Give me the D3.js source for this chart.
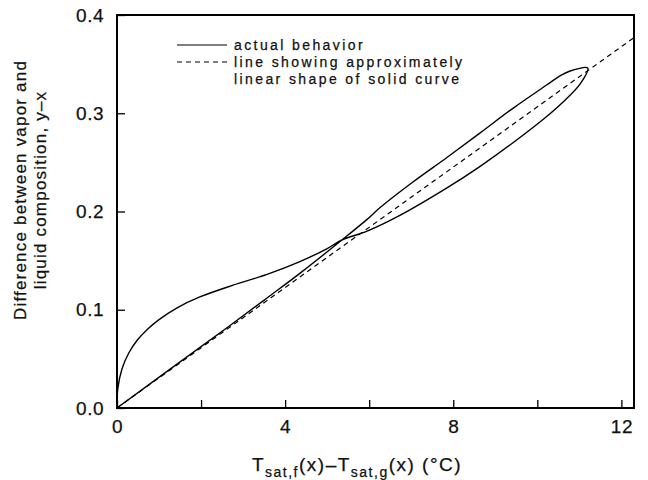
<!DOCTYPE html>
<html>
<head>
<meta charset="utf-8">
<script src="https://cdn.jsdelivr.net/npm/d3@7"></script>
<style>
  body { margin: 0; background: #fff; }
  svg text { font-family: "Liberation Sans", Arial, sans-serif; fill: #111; stroke: #111; stroke-width: 0.25px; }
</style>
</head>
<body>
<div class="chart"></div>
<script>
// loop traced by the measured curve (out along upper-left branch, back along the straight one)
const loopX = [0, 0.02, 0.12, 0.28, 0.48, 0.72, 1.0, 1.43, 1.97, 2.76, 3.57, 4.35, 4.99, 5.35, 5.95, 6.73, 7.85, 8.64, 9.42, 10.23, 10.6, 11.02, 11.2, 10.78, 10.54, 10.23, 9.42, 8.64, 7.85, 7.04, 6.26, 5.95, 5.35, 4.35, 3.57, 2.69, 1.5, 0]
const loopY = [0, 0.02, 0.04, 0.056, 0.069, 0.08, 0.09, 0.102, 0.113, 0.125, 0.136, 0.149, 0.162, 0.171, 0.18, 0.196, 0.224, 0.246, 0.27, 0.297, 0.311, 0.33, 0.346, 0.343, 0.338, 0.329, 0.305, 0.28, 0.255, 0.23, 0.204, 0.192, 0.171, 0.137, 0.112, 0.084, 0.047, 0]

// dashed straight line
const dashX = [0, 12.3]
const dashY = [0, 0.377]

const xTicks = [0, 2, 4, 6, 8, 10, 12]
const xLabels = [0, 4, 8, 12]
const yTicks = [0, 0.1, 0.2, 0.3, 0.4]

const legendItems = [
  { dash: null, lines: ['actual behavior'] },
  { dash: '5,4', lines: ['line showing approximately', 'linear shape of solid curve'] }
]

const width = 648, height = 480
const mLeft = 117, mRight = 634, mTop = 15, mBottom = 408

const x = d3.scaleLinear().domain([0, 12.3]).range([mLeft, mRight])
const y = d3.scaleLinear().domain([0, 0.4]).range([mBottom, mTop])

const svg = d3.select('.chart')
.append('svg')
.attr('width', width)
.attr('height', height)

// frame
svg.append('rect')
.attr('x', mLeft).attr('y', mTop)
.attr('width', mRight - mLeft).attr('height', mBottom - mTop)
.attr('fill', 'none').attr('stroke', '#000').attr('stroke-width', 2)

// ticks point inward
svg.append('g')
.attr('transform', `translate(0,${mBottom})`)
.call(d3.axisBottom(x).tickValues(xTicks).tickSize(-8).tickPadding(12)
  .tickFormat(d => xLabels.includes(d) ? d : ''))
.call(g => g.select('.domain').remove())
.call(g => g.selectAll('line').attr('stroke-width', 1.3))
.call(g => g.selectAll('text').attr('font-size', 19).attr('letter-spacing', 0.5))

svg.append('g')
.attr('transform', `translate(${mLeft},0)`)
.call(d3.axisLeft(y).tickValues(yTicks).tickSize(-8).tickPadding(13)
  .tickFormat(d3.format('.1f')))
.call(g => g.select('.domain').remove())
.call(g => g.selectAll('line').attr('stroke-width', 1.3))
.call(g => g.selectAll('text').attr('font-size', 19).attr('letter-spacing', 0.5))

const line = d3.line().x(d => x(d[0])).y(d => y(d[1]))

svg.append('path')
.datum(dashX.map((d, i) => [d, dashY[i]]))
.attr('d', line)
.attr('fill', 'none').attr('stroke', '#000')
.attr('stroke-width', 1.2).attr('stroke-dasharray', '5,4')

svg.append('path')
.datum(loopX.map((d, i) => [d, loopY[i]]))
.attr('d', line.curve(d3.curveCatmullRom.alpha(0.5)))
.attr('fill', 'none').attr('stroke', '#000')
.attr('stroke-width', 1.4)

// legend
const lg = svg.append('g').attr('transform', 'translate(177,45)')
let ly = 0
legendItems.forEach(item => {
  lg.append('line')
  .attr('x1', 0).attr('x2', 50).attr('y1', ly).attr('y2', ly)
  .attr('stroke', '#000').attr('stroke-width', 1.2)
  .attr('stroke-dasharray', item.dash)
  item.lines.forEach((t, j) => {
    lg.append('text')
    .attr('x', 57).attr('y', ly + j * 17)
    .attr('dy', '0.35em')
    .attr('font-size', 14).attr('letter-spacing', 2.4)
    .text(t)
  })
  ly += 17 * item.lines.length
})

// x title with subscripts
const xt = svg.append('text')
.attr('x', 357).attr('y', 471)
.attr('text-anchor', 'middle').attr('font-size', 19).attr('letter-spacing', 1.5)
xt.append('tspan').text('T')
xt.append('tspan').attr('font-size', 14).attr('dy', 6).text('sat,f')
xt.append('tspan').attr('dy', -6).text('(x)\u2013T')
xt.append('tspan').attr('font-size', 14).attr('dy', 6).text('sat,g')
xt.append('tspan').attr('dy', -6).text('(x) (\u00b0C)')

// y title, two lines
const ytitle = ['Difference between vapor and', 'liquid composition, y\u2013x']
ytitle.forEach((t, i) => {
  svg.append('text')
  .attr('transform', `translate(${26 + i * 20},190) rotate(-90)`)
  .attr('text-anchor', 'middle').attr('font-size', 17).attr('letter-spacing', 1.2)
  .text(t)
})
</script>
</body>
</html>
